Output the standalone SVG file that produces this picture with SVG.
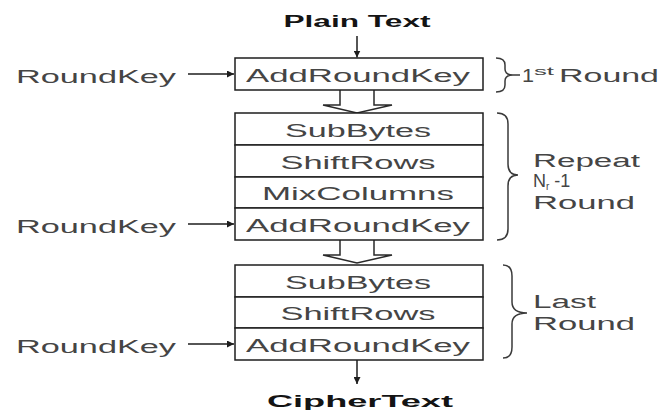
<svg xmlns="http://www.w3.org/2000/svg" width="672" height="417" viewBox="0 0 672 417">
  <style>
    .t { font-family: "Liberation Sans", Arial, sans-serif; font-size: 18px; fill: #454545; }
    .b { font-family: "Liberation Sans", Arial, sans-serif; font-size: 16px; font-weight: bold; fill: #141414; }
    .box { fill: #ffffff; stroke: #1e1e1e; stroke-width: 1.5; }
    .ln { fill: none; stroke: #1e1e1e; stroke-width: 1.5; }
    .hollow { fill: #ffffff; stroke: #2a2a2a; stroke-width: 1.5; stroke-linejoin: miter; }
    .brace { fill: none; stroke: #3a3a3a; stroke-width: 1.5; }
  </style>
  <defs>
    <marker id="ah" viewBox="0 0 10 10" refX="10" refY="5" markerWidth="7" markerHeight="7" markerUnits="userSpaceOnUse" orient="auto">
      <path d="M0,0 L10,5 L0,10 z" fill="#1e1e1e"/>
    </marker>
  </defs>
  <rect width="672" height="417" fill="#ffffff"/>

  <g id="connectors">
    <line class="ln" x1="357" y1="36" x2="357" y2="57.5" marker-end="url(#ah)"/>
    <line class="ln" x1="188" y1="74" x2="234" y2="74" marker-end="url(#ah)"/>
    <line class="ln" x1="188" y1="224" x2="234" y2="224" marker-end="url(#ah)"/>
    <line class="ln" x1="188" y1="344" x2="234" y2="344" marker-end="url(#ah)"/>
    <line class="ln" x1="357" y1="360" x2="357" y2="384" marker-end="url(#ah)"/>
    <path class="hollow" d="M340,90 V105 H323 L357,113 L392,105 H374 V90"/>
    <path class="hollow" d="M340,240 V255 H323 L357,263 L392,255 H374 V240"/>
  </g>

  <g id="plaintext">
    <text class="b" x="357" y="27" text-anchor="middle" textLength="147" lengthAdjust="spacingAndGlyphs">Plain Text</text>
  </g>

  <g id="round1-addroundkey">
    <rect class="box" x="235" y="58" width="248" height="32"/>
    <text class="t" x="358" y="82" text-anchor="middle" textLength="224" lengthAdjust="spacingAndGlyphs">AddRoundKey</text>
  </g>

  <g id="roundkey-1">
    <text class="t" x="16" y="83" textLength="160" lengthAdjust="spacingAndGlyphs">RoundKey</text>
  </g>
  <g id="roundkey-2">
    <text class="t" x="16" y="233" textLength="160" lengthAdjust="spacingAndGlyphs">RoundKey</text>
  </g>
  <g id="roundkey-3">
    <text class="t" x="16" y="353" textLength="160" lengthAdjust="spacingAndGlyphs">RoundKey</text>
  </g>

  <g id="mid-subbytes">
    <rect class="box" x="235" y="113" width="248" height="32"/>
    <text class="t" x="358" y="136.5" text-anchor="middle" textLength="146" lengthAdjust="spacingAndGlyphs">SubBytes</text>
  </g>
  <g id="mid-shiftrows">
    <rect class="box" x="235" y="145" width="248" height="32"/>
    <text class="t" x="358" y="168.5" text-anchor="middle" textLength="155" lengthAdjust="spacingAndGlyphs">ShiftRows</text>
  </g>
  <g id="mid-mixcolumns">
    <rect class="box" x="235" y="177" width="248" height="31"/>
    <text class="t" x="358" y="200" text-anchor="middle" textLength="192" lengthAdjust="spacingAndGlyphs">MixColumns</text>
  </g>
  <g id="mid-addroundkey">
    <rect class="box" x="235" y="208" width="248" height="32"/>
    <text class="t" x="358" y="231.5" text-anchor="middle" textLength="224" lengthAdjust="spacingAndGlyphs">AddRoundKey</text>
  </g>

  <g id="last-subbytes">
    <rect class="box" x="235" y="265" width="248" height="32"/>
    <text class="t" x="358" y="288.5" text-anchor="middle" textLength="146" lengthAdjust="spacingAndGlyphs">SubBytes</text>
  </g>
  <g id="last-shiftrows">
    <rect class="box" x="235" y="297" width="248" height="31"/>
    <text class="t" x="358" y="320" text-anchor="middle" textLength="155" lengthAdjust="spacingAndGlyphs">ShiftRows</text>
  </g>
  <g id="last-addroundkey">
    <rect class="box" x="235" y="328" width="248" height="32"/>
    <text class="t" x="358" y="351.5" text-anchor="middle" textLength="224" lengthAdjust="spacingAndGlyphs">AddRoundKey</text>
  </g>

  <g id="ciphertext">
    <text class="b" x="360" y="407" text-anchor="middle" textLength="186" lengthAdjust="spacingAndGlyphs">CipherText</text>
  </g>

  <g id="label-first-round">
    <path class="brace" d="M496,58 Q505,58 505,65 V69 Q505,75 513,75 H520 M513,75 Q505,75 505,81 V85 Q505,92 496,92"/>
    <text class="t" x="522" y="82" textLength="12" lengthAdjust="spacingAndGlyphs">1</text>
    <text class="t" x="534" y="75" style="font-size:11px" textLength="20" lengthAdjust="spacingAndGlyphs">st</text>
    <text class="t" x="559" y="82" textLength="100" lengthAdjust="spacingAndGlyphs">Round</text>
  </g>

  <g id="label-repeat">
    <path class="brace" d="M497,113 Q508,113 508,124 V164 Q508,175 518,175 Q508,175 508,186 V229 Q508,240 497,240"/>
    <text class="t" x="533" y="166.5" textLength="107" lengthAdjust="spacingAndGlyphs">Repeat</text>
    <text class="t" x="533" y="186.5">N<tspan dy="3" style="font-size:10px">r</tspan><tspan dy="-3"> -1</tspan></text>
    <text class="t" x="533" y="209" textLength="102" lengthAdjust="spacingAndGlyphs">Round</text>
  </g>

  <g id="label-last">
    <path class="brace" d="M503,265 Q512,265 512,276 V302 Q512,313 527,313 Q512,313 512,324 V347 Q512,358 503,358"/>
    <text class="t" x="533" y="308" textLength="63" lengthAdjust="spacingAndGlyphs">Last</text>
    <text class="t" x="533" y="330" textLength="102" lengthAdjust="spacingAndGlyphs">Round</text>
  </g>
</svg>
